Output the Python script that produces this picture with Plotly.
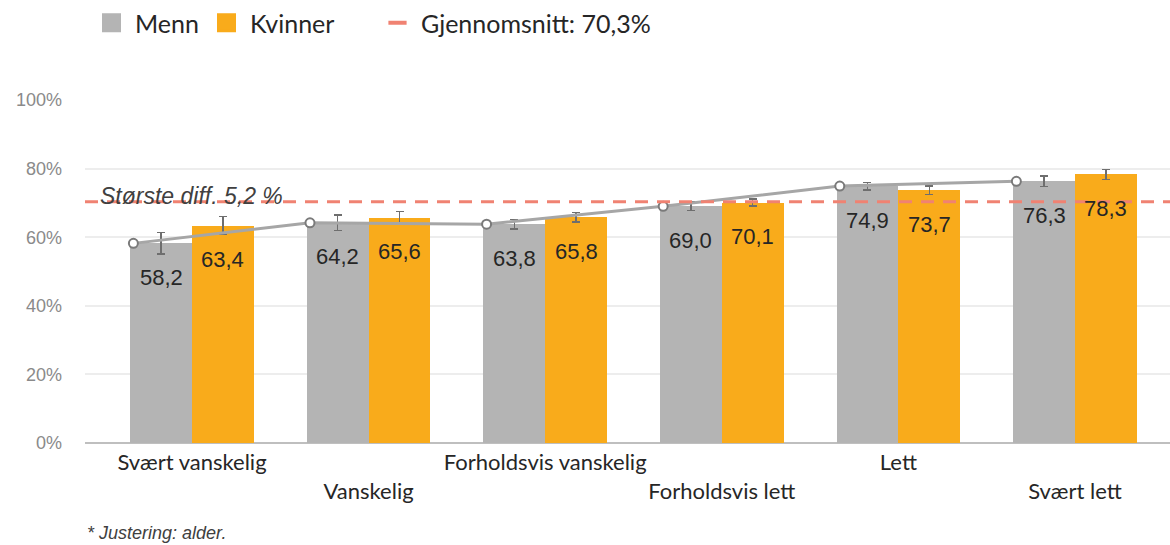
import plotly.graph_objects as go

categories = ["Svært vanskelig", "Vanskelig", "Forholdsvis vanskelig",
              "Forholdsvis lett", "Lett", "Svært lett"]
menn = [58.2, 64.2, 63.8, 69.0, 74.9, 76.3]
kvinner = [63.4, 65.6, 65.8, 70.1, 73.7, 78.3]
menn_err = [3.1, 2.3, 1.4, 1.2, 1.1, 1.5]
kvinner_err = [2.6, 1.9, 1.4, 1.0, 1.2, 1.5]
gjennomsnitt = 70.3
storste_diff = "Største diff. 5,2 %"
footnote = "* Justering: alder."
y_ticks = [0, 20, 40, 60, 80, 100]
y_ticktext = [f"{v}%" for v in y_ticks]

GREY = "#B4B4B4"
ORANGE = "#F9AB1B"
AVG = "#F08272"
BW = 0.35
XR = [-0.606, 5.538]
W, H = 1170, 545

idx = list(range(len(categories)))
x_m = [i - BW / 2 for i in idx]
x_k = [i + BW / 2 for i in idx]
x_line = [i - 0.332 for i in idx]

fig = go.Figure()
err_style = dict(type="data", thickness=1.5, width=4, color="#6E6E6E")
fig.add_trace(go.Bar(x=x_m, y=menn, width=BW, name="Menn", marker_color=GREY,
                     marker_line_width=0, showlegend=False,
                     error_y=dict(array=menn_err, **err_style)))
fig.add_trace(go.Bar(x=x_k, y=kvinner, width=BW, name="Kvinner", marker_color=ORANGE,
                     marker_line_width=0, showlegend=False,
                     error_y=dict(array=kvinner_err, **err_style)))
fig.add_trace(go.Scatter(x=x_line, y=menn, mode="lines+markers", showlegend=False,
                         line=dict(color="#A6A6A6", width=3),
                         marker=dict(symbol="circle", size=9, color="white",
                                     line=dict(color="#7A7A7A", width=2))))
# average line
fig.add_shape(type="line", xref="paper", x0=0, x1=1, yref="y", y0=gjennomsnitt, y1=gjennomsnitt,
              line=dict(color=AVG, width=3, dash="13px,9px"), layer="above")

# legend entries (one legend box each, to control spacing)
for name, col, leg in (("Menn", GREY, "legend"), ("Kvinner", ORANGE, "legend3")):
    fig.add_trace(go.Scatter(x=[None], y=[None], mode="markers", name=name, legend=leg,
                             marker=dict(symbol="square", size=16, color=col,
                                         line=dict(color=col, width=3))))
fig.add_trace(go.Scatter(x=[None], y=[None], mode="markers", legend="legend2",
                         name=f"Gjennomsnitt: {str(gjennomsnitt).replace('.', ',')}%",
                         marker=dict(symbol="line-ew-open", size=13, color=AVG,
                                     line=dict(color=AVG, width=4))))

for xs, vals in ((x_m, menn), (x_k, kvinner)):
    for x, v in zip(xs, vals):
        fig.add_annotation(x=x, y=v, yshift=-34, text=f"{v:.1f}".replace(".", ","),
                           showarrow=False,
                           font=dict(family="Liberation Sans, Arial", size=22, color="#262626"))

fig.add_annotation(x=-0.535, y=72, xanchor="left", yanchor="middle", text=storste_diff,
                   showarrow=False,
                   font=dict(family="Liberation Sans, Arial", size=23, color="#404040", style="italic"))
fig.add_annotation(xref="paper", yref="paper", x=0, y=-0.262, xanchor="left", yanchor="middle",
                   text=footnote, showarrow=False,
                   font=dict(family="Liberation Sans, Arial", size=18, color="#404040", style="italic"))

ticktext = [c if i % 2 == 0 else "<br>" + c for i, c in enumerate(categories)]
leg_font = dict(family="Lato, Open Sans", size=25, color="#262626")


def leg(xpix):
    return dict(orientation="h", xref="container", x=xpix / W, xanchor="left",
                yref="container", y=1 - 23 / H, yanchor="middle",
                font=leg_font, bgcolor="rgba(0,0,0,0)", itemwidth=37)


fig.update_layout(
    width=W, height=H,
    margin=dict(l=85, r=0, t=100, b=102, autoexpand=False),
    plot_bgcolor="white", paper_bgcolor="white",
    bargap=0, barmode="overlay",
    showlegend=True,
    legend=leg(88),
    legend3=leg(203),
    legend2=leg(374),
    xaxis=dict(range=XR, tickvals=idx, ticktext=ticktext, showgrid=False, zeroline=False,
               showline=False, ticks="", ticklabelstandoff=4, tickangle=0, automargin=False,
               tickfont=dict(family="Lato, Open Sans", size=22, color="#262626")),
    yaxis=dict(range=[0, 100], tickvals=y_ticks, ticktext=y_ticktext, showgrid=True,
               gridcolor="#EDEDED", gridwidth=2, zeroline=True, zerolinecolor="#BFBFBF",
               zerolinewidth=2, showline=False, ticks="", ticklabelstandoff=22, automargin=False,
               tickfont=dict(family="Liberation Sans, Arial", size=18, color="#8A8A8A")),
)

fig.write_html("out.html", config={"displayModeBar": False},
               post_script="document.body.style.margin='0';")
